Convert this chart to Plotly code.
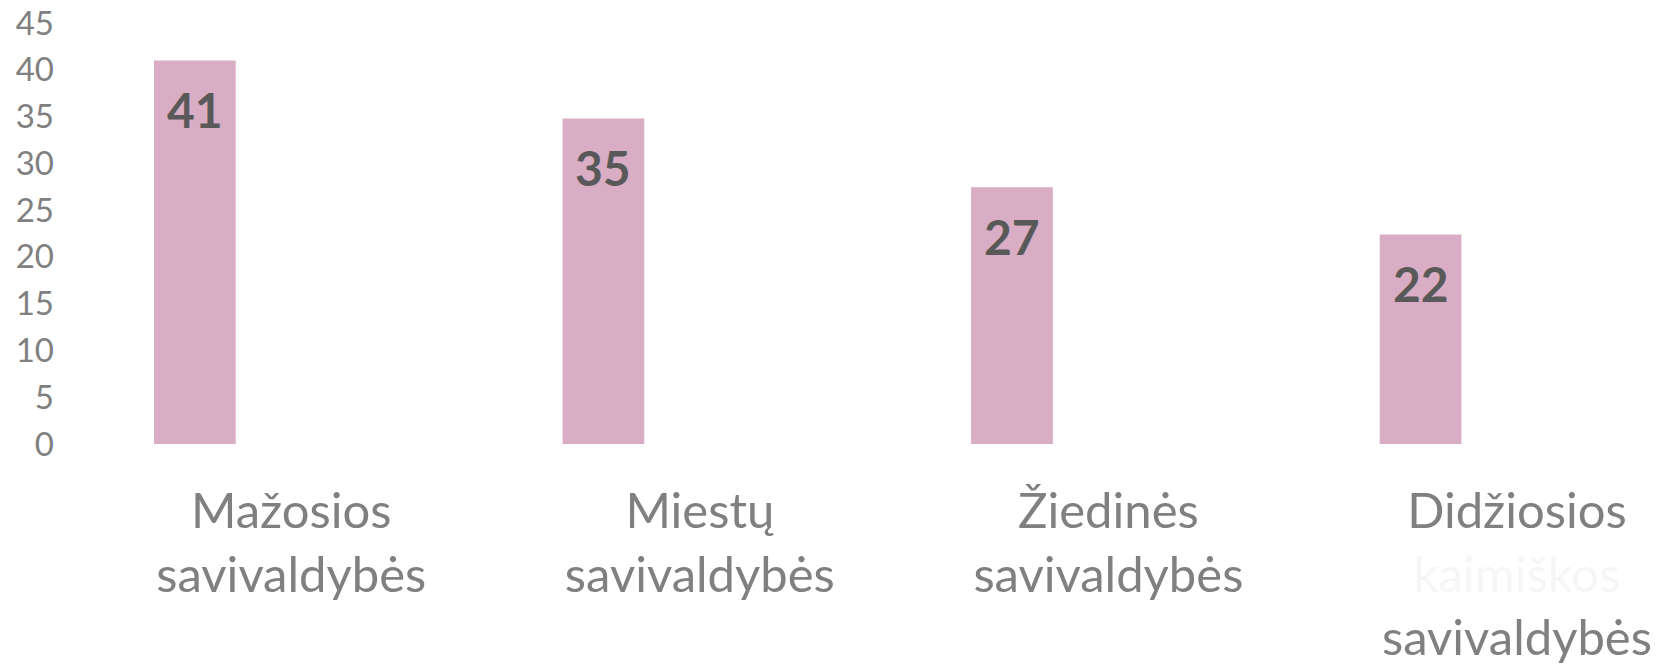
import plotly.graph_objects as go

categories = [
    "Mažosios<br>savivaldybės",
    "Miestų<br>savivaldybės",
    "Žiedinės<br>savivaldybės",
    "Didžiosios<br><span style='color:#f6f6f6'>kaimiškos</span><br>savivaldybės",
]
values = [41.0, 34.8, 27.45, 22.4]
labels = [f"{v:.0f}" for v in values]
y_ticks = [0, 5, 10, 15, 20, 25, 30, 35, 40, 45]

BAR_COLOR = "#D9ADC3"
BAR_OFFSET = -0.336
BAR_WIDTH = 0.2
AXIS_GRAY = "#808080"
LABEL_GRAY = "#595959"
FONT = "Lato"

xs = list(range(len(categories)))

fig = go.Figure()
fig.add_trace(go.Bar(
    x=xs,
    y=values,
    offset=BAR_OFFSET,
    width=BAR_WIDTH,
    marker=dict(color=BAR_COLOR, line=dict(width=0)),
    hoverinfo="skip",
))

for x, v, t in zip(xs, values, labels):
    fig.add_annotation(
        x=x + BAR_OFFSET + BAR_WIDTH / 2, y=v, xref="x", yref="y",
        text=f"<b>{t}</b>", showarrow=False,
        yanchor="middle", xanchor="center", yshift=-49,
        font=dict(family=FONT, size=48, color=LABEL_GRAY),
    )

fig.update_layout(
    width=1662, height=665,
    margin=dict(l=87, r=0, t=23, b=221),
    paper_bgcolor="white", plot_bgcolor="white",
    showlegend=False,
    font=dict(family=FONT, color=AXIS_GRAY),
)
fig.update_xaxes(
    type="linear",
    range=[-0.5, 3.355],
    tickvals=xs, ticktext=categories,
    tickfont=dict(family=FONT, size=49, color=AXIS_GRAY),
    showgrid=False, zeroline=False, showline=False, ticks="",
    ticklabelstandoff=34,
    fixedrange=True,
)
fig.update_yaxes(
    range=[0, 45],
    tickvals=y_ticks,
    tickfont=dict(family=FONT, size=33, color=AXIS_GRAY),
    showgrid=False, zeroline=False, showline=False, ticks="",
    ticklabelstandoff=32,
    fixedrange=True,
)

fig.write_html("out.html", config={"displayModeBar": False})
